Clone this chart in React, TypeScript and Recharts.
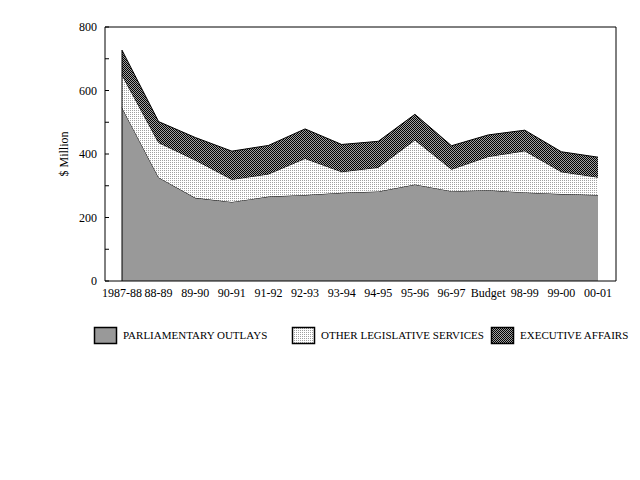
import React from "react";
import { AreaChart, Area, XAxis, YAxis, ReferenceLine } from "recharts";

// Budget outlays by function, $ million
const categories = [
  "1987-88", "88-89", "89-90", "90-91", "91-92", "92-93", "93-94",
  "94-95", "95-96", "96-97", "Budget", "98-99", "99-00", "00-01",
];
const parliamentaryOutlays = [546, 326, 262, 249, 266, 271, 278, 282, 304, 283, 286, 279, 274, 271];
const otherLegislative = [103, 110, 119, 71, 71, 115, 66, 76, 140, 69, 106, 131, 70, 56];
const executiveAffairs = [78, 66, 71, 89, 90, 93, 86, 82, 81, 74, 68, 65, 63, 63];
const yTicks = [0, 100, 200, 300, 400, 500, 600, 700, 800];

const FONT = "'Liberation Serif', 'Times New Roman', serif";

const series = [
  { key: "po", name: "PARLIAMENTARY OUTLAYS", fill: "#999999", legendX: 94 },
  { key: "ols", name: "OTHER LEGISLATIVE SERVICES", fill: "url(#dotsPat)", legendX: 292 },
  { key: "ea", name: "EXECUTIVE AFFAIRS", fill: "url(#checkPat)", legendX: 491 },
];

const data = categories.map((c, i) => ({
  year: c,
  po: parliamentaryOutlays[i],
  ols: otherLegislative[i],
  ea: executiveAffairs[i],
}));

const firstTotal = parliamentaryOutlays[0] + otherLegislative[0] + executiveAffairs[0];

const Patterns = ({ suffix = "" }: { suffix?: string }) => (
  <defs>
    <pattern id={"dotsPat" + suffix} width="2" height="2" patternUnits="userSpaceOnUse">
      <rect width="2" height="2" fill="#ffffff" />
      <rect width="1" height="1" fill="#a0a0a0" />
    </pattern>
    <pattern id={"checkPat" + suffix} width="2" height="2" patternUnits="userSpaceOnUse">
      <rect width="2" height="2" fill="#a0a0a0" />
      <rect width="1" height="1" fill="#000000" />
      <rect x="1" y="1" width="1" height="1" fill="#000000" />
    </pattern>
  </defs>
);

// left axis: labels every 200, small inward tick every 100
const YTick = (props: any) => {
  const { x, y, payload } = props;
  return (
    <g>
      <line x1={x + 8} x2={x + 12} y1={y} y2={y} stroke="#000" />
      {payload.value % 200 === 0 && (
        <text x={x} y={y} dy="0.355em" textAnchor="end" fontSize={12} fontFamily={FONT} fill="#000">
          {payload.value}
        </text>
      )}
    </g>
  );
};

const YLabel = (props: any) => {
  const { viewBox } = props;
  const cx = viewBox.x + 19;
  const cy = viewBox.y + viewBox.height / 2;
  return (
    <text
      x={cx}
      y={cy}
      transform={`rotate(-90 ${cx} ${cy})`}
      textAnchor="middle"
      dominantBaseline="central"
      fontSize={12}
      fontFamily={FONT}
      fill="#000"
    >
      $ Million
    </text>
  );
};

export default function App() {
  return (
    <div style={{ position: "absolute", left: 0, top: 0, width: 640, height: 480, background: "#fff", fontFamily: FONT }}>
      <AreaChart width={640} height={480} data={data} margin={{ top: 26, right: 23, left: 45, bottom: 169 }}>
        <Patterns />
        <XAxis
          dataKey="year"
          interval={0}
          tickLine={false}
          tickSize={0}
          tickMargin={7}
          height={30}
          padding={{ left: 17, right: 18 }}
          axisLine={{ stroke: "#000" }}
          tick={{ fontSize: 12, fill: "#000", fontFamily: FONT }}
        />
        <XAxis
          xAxisId="top"
          dataKey="year"
          orientation="top"
          height={1}
          tick={() => <g />}
          tickLine={false}
          axisLine={{ stroke: "#000" }}
        />
        <YAxis
          domain={[0, 800]}
          ticks={yTicks}
          interval={0}
          width={60}
          tickLine={false}
          tickSize={0}
          tickMargin={8}
          axisLine={{ stroke: "#000" }}
          tick={<YTick />}
          label={<YLabel />}
        />
        <YAxis
          yAxisId="right"
          orientation="right"
          width={1}
          domain={[0, 800]}
          tick={() => <g />}
          tickLine={false}
          axisLine={{ stroke: "#000" }}
        />
        {series.map((s) => (
          <Area
            key={s.key}
            type="linear"
            dataKey={s.key}
            name={s.name}
            stackId="1"
            stroke="#000"
            strokeWidth={1}
            fill={s.fill}
            fillOpacity={1}
            isAnimationActive={false}
            dot={false}
            activeDot={false}
          />
        ))}
        <ReferenceLine
          segment={[
            { x: categories[0], y: 0 },
            { x: categories[0], y: firstTotal },
          ]}
          stroke="#000"
        />
      </AreaChart>
      <svg width={640} height={30} style={{ position: "absolute", left: 0, top: 320 }}>
        <Patterns suffix="L" />
        {series.map((s) => (
          <g key={s.key}>
            <rect
              x={s.legendX + 0.5}
              y={7.5}
              width={22}
              height={16}
              fill={s.fill.replace("Pat)", "PatL)")}
              stroke="#000"
              strokeWidth={1.5}
            />
            <text x={s.legendX + 29} y={19} fontSize={11} fontFamily={FONT} fill="#000">
              {s.name}
            </text>
          </g>
        ))}
      </svg>
    </div>
  );
}
